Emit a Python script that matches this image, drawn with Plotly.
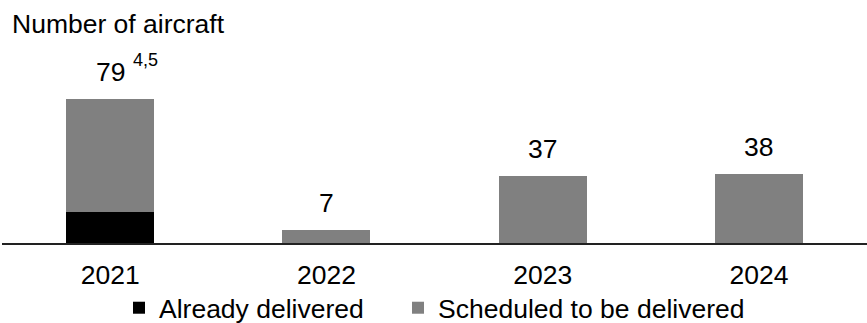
import plotly.graph_objects as go

categories = ["2021", "2022", "2023", "2024"]
already_delivered = [17, 0, 0, 0]
scheduled = [62, 7, 37, 38]
totals = [79, 7, 37, 38]
footnote = "4,5"

FONT = "Arial, 'Liberation Sans', sans-serif"
FS = 26.5
W, H = 867, 323
ML, MR, MT, MB = 2, 0, 60, 80
PW, PH = W - ML - MR, H - MT - MB
LEG_Y = -(308 - 243) / PH

fig = go.Figure()
fig.add_trace(go.Bar(x=categories, y=already_delivered, name="Already delivered",
                     marker=dict(color="#000000", line=dict(width=0)), legend="legend"))
fig.add_trace(go.Bar(x=categories, y=scheduled, name="Scheduled to be delivered",
                     marker=dict(color="#808080", line=dict(width=0)), legend="legend2"))

for i, t in enumerate(totals):
    fig.add_annotation(x=i, y=t, text=str(t), showarrow=False, yanchor="bottom",
                       yshift=10, font=dict(size=FS, color="#000000", family=FONT))

fig.add_annotation(x=0, y=totals[0], text=footnote, showarrow=False,
                   xanchor="left", yanchor="bottom", xshift=21, yshift=27,
                   font=dict(size=18, color="#000000", family=FONT))

fig.add_annotation(xref="paper", yref="paper", x=(10 - ML) / PW, y=1 + (MT - 24) / PH,
                   text="Number of aircraft", showarrow=False, xanchor="left", yanchor="middle",
                   font=dict(size=FS, color="#000000", family=FONT))

legend_common = dict(orientation="h", xanchor="left", y=LEG_Y, yanchor="middle",
                     font=dict(size=FS, family=FONT, color="#000000"),
                     bgcolor="rgba(0,0,0,0)")

fig.update_layout(
    width=W, height=H,
    barmode="stack", bargap=0.593,
    margin=dict(l=ML, r=MR, t=MT, b=MB, autoexpand=False),
    plot_bgcolor="white", paper_bgcolor="white",
    font=dict(family=FONT, size=FS, color="#000000"),
    showlegend=True,
    legend=dict(x=(119 - ML) / PW, **legend_common),
    legend2=dict(x=(398 - ML) / PW, **legend_common),
    xaxis=dict(type="category", range=[-0.5, len(categories) - 0.5], autorange=False,
               showline=True, linecolor="#222222", linewidth=2, ticks="",
               ticklabelstandoff=7,
               showgrid=False, tickfont=dict(size=FS, family=FONT), automargin=False),
    yaxis=dict(range=[0, 100.4], visible=False, showgrid=False, zeroline=False),
)

fig.write_html("out.html", config={"displayModeBar": False},
               post_script="document.body.style.margin='0';")
